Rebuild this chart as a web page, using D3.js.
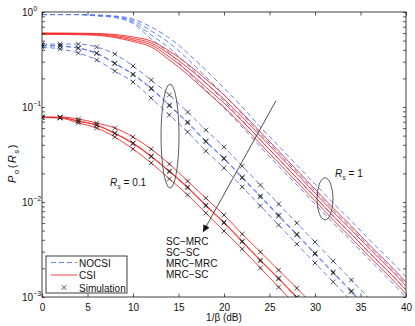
<!DOCTYPE html>
<html>
<head>
<meta charset="utf-8">
<title>outage</title>
<script src="https://d3js.org/d3.v7.min.js"></script>
<style>
	body { margin: 0; background: #fff; }
	text { font-family: "Liberation Sans", Arial, sans-serif; fill: #111; }
</style>
</head>
<body>
<div id="chart"></div>
<script>

	// 1/beta in dB, sample points of the analytic curves
	var snrRs1  = [0,2,4,6,8,10,12,14,16,18,20,22,24,26,28,30,32,34,36,38,40];
	var snrRs01 = [0,2,4,6,8,10,12,14,16,18,20,22,24,26,28,30,32,34,36,38];
	var snrCsi01 = [0,2,4,6,8,10,12,14,16,18,20,22,24,26,28,30];

	// simulation points
	var simSnrNocsi = [0,2,4,6,8,10,12,14,16,18,20,22,24,26,28,30,32,34];
	var simSnrCsi   = [0,2,4,6,8,10,12,14,16,18,20,22,24,26,28];

	// NOCSI, Rs = 1 (SC-MRC, SC-SC, MRC-MRC, MRC-SC)
	var nocsiRs1 = [
		[0.94,0.94,0.94,0.93,0.908,0.844,0.695,0.532,0.370,0.245,0.158,0.100,0.0615,0.0389,0.0245,0.0155,0.00976,0.00631,0.00398,0.00258,0.00163],
		[0.94,0.94,0.94,0.923,0.897,0.814,0.631,0.472,0.320,0.207,0.134,0.0843,0.052,0.0328,0.0207,0.0131,0.00824,0.00532,0.00336,0.00217,0.00137],
		[0.94,0.94,0.94,0.916,0.886,0.785,0.573,0.418,0.277,0.179,0.116,0.073,0.045,0.0284,0.0179,0.0113,0.00713,0.0046,0.0029,0.00188,0.00119],
		[0.94,0.94,0.94,0.908,0.875,0.757,0.52,0.370,0.234,0.151,0.0976,0.0615,0.038,0.0239,0.0151,0.00953,0.00601,0.00388,0.00245,0.00158,0.001]
	];

	// CSI, Rs = 1
	var csiRs1 = [
		[0.601,0.601,0.598,0.594,0.580,0.546,0.495,0.388,0.284,0.197,0.134,0.0865,0.0546,0.0344,0.0217,0.0137,0.00865,0.00559,0.00352,0.00228,0.00144],
		[0.594,0.594,0.592,0.587,0.566,0.526,0.472,0.361,0.261,0.179,0.121,0.0785,0.0495,0.0313,0.0197,0.0124,0.00785,0.00507,0.0032,0.00207,0.00131],
		[0.587,0.587,0.584,0.577,0.552,0.507,0.45,0.336,0.239,0.162,0.110,0.0713,0.045,0.0284,0.0179,0.0113,0.00713,0.0046,0.0029,0.00188,0.00119],
		[0.580,0.580,0.577,0.569,0.539,0.489,0.428,0.313,0.220,0.147,0.100,0.0647,0.0408,0.0258,0.0163,0.0103,0.00647,0.00418,0.00264,0.00171,0.00108]
	];

	// NOCSI, Rs = 0.1
	var nocsiRs01 = [
		[0.460,0.460,0.460,0.428,0.361,0.270,0.192,0.134,0.0885,0.0573,0.038,0.0239,0.0151,0.00953,0.00601,0.00379,0.00239,0.00151,0.000953,0.000601],
		[0.444,0.439,0.418,0.370,0.290,0.222,0.158,0.105,0.0695,0.0439,0.029,0.0183,0.0116,0.0073,0.0046,0.0029,0.00183,0.00116,0.00073,0.00046],
		[0.443,0.437,0.415,0.366,0.286,0.219,0.155,0.103,0.068,0.043,0.0284,0.0179,0.0113,0.0071,0.00449,0.00283,0.00178,0.00113,0.00071,0.00045],
		[0.428,0.408,0.370,0.313,0.239,0.183,0.124,0.0824,0.0546,0.0344,0.0228,0.0144,0.00908,0.00573,0.00361,0.00228,0.00144,0.000908,0.000573,0.00036]
	];

	// CSI, Rs = 0.1
	var csiRs01 = [
		[0.0785,0.0785,0.0748,0.0679,0.0601,0.0483,0.0361,0.0251,0.0166,0.0110,0.0073,0.0046,0.00298,0.00192,0.00124,0.000785],
		[0.0779,0.0775,0.0713,0.0647,0.0532,0.0418,0.0305,0.0212,0.0144,0.00929,0.00615,0.00388,0.00245,0.00158,0.001,0.00063],
		[0.0777,0.0772,0.0708,0.0641,0.0525,0.0411,0.0300,0.0208,0.0141,0.0091,0.0060,0.0038,0.0024,0.00155,0.00098,0.00062],
		[0.0775,0.0766,0.0679,0.0601,0.0483,0.0361,0.0258,0.0175,0.0119,0.00766,0.00495,0.0032,0.00202,0.00127,0.000804,0.0005]
	];

	var xTicks = [0,5,10,15,20,25,30,35,40];
	var yDecades = [1,0.1,0.01,0.001];
	var yExponents = ["0","\u22121","\u22122","\u22123"];
	var schemes = ["SC\u2212MRC","SC\u2212SC","MRC\u2212MRC","MRC\u2212SC"];
	var legendLabels = ["NOCSI","CSI","Simulation"];

	//display variables
	var width = 415, height = 326;
	var plotL = 42, plotR = 406, plotT = 12, plotB = 297;
	var blue = "#5375f5", red = "#f52a2a";

	var svg = d3.select('#chart').append('svg')
		.attr('width', width).attr('height', height);

	var x = d3.scaleLinear().domain([0,40]).range([plotL,plotR]);
	var y = d3.scaleLog().domain([0.001,1]).range([plotB,plotT]);

	svg.append('clipPath').attr('id','plotclip')
		.append('rect').attr('x',plotL).attr('y',plotT).attr('width',plotR-plotL).attr('height',plotB-plotT);

	var plot = svg.append('g').attr('clip-path','url(#plotclip)');

	var line = d3.line()
		.x(function(d){ return x(d[0]); })
		.y(function(d){ return y(d[1]); })
		.curve(d3.curveMonotoneX);

	function drawGroup(xs, series, color, dash){
		series.forEach(function(vals){
			plot.append('path')
				.attr('d', line(d3.zip(xs, vals)))
				.attr('fill','none')
				.attr('stroke', color)
				.attr('stroke-width', 0.9)
				.attr('stroke-dasharray', dash ? '5,3' : null);
		});
	}

	drawGroup(snrRs1, nocsiRs1, blue, true);
	drawGroup(snrRs1, csiRs1, red, false);
	drawGroup(snrRs01, nocsiRs01, blue, true);
	drawGroup(snrCsi01, csiRs01, red, false);

	// simulation crosses
	function cross(cx, cy){
		var s = 2.3;
		return 'M'+(cx-s)+','+(cy-s)+'L'+(cx+s)+','+(cy+s)+'M'+(cx-s)+','+(cy+s)+'L'+(cx+s)+','+(cy-s);
	}
	function drawSim(simXs, xs, series){
		series.forEach(function(vals){
			simXs.forEach(function(sx){
				var v = vals[xs.indexOf(sx)];
				plot.append('path')
					.attr('d', cross(x(sx), y(v)))
					.attr('stroke','#222')
					.attr('stroke-width',0.8)
					.attr('fill','none');
			});
		});
	}
	drawSim(simSnrNocsi, snrRs01, nocsiRs01);
	drawSim(simSnrCsi, snrCsi01, csiRs01);

	// axes, ticks pointing inward
	var yTickVals = y.ticks();
	svg.append('g').attr('transform','translate(0,'+plotB+')')
		.call(d3.axisBottom(x).tickValues(xTicks).tickSize(-3.5).tickPadding(7))
		.call(function(g){ g.select('.domain').remove(); });
	svg.append('g').attr('transform','translate(0,'+plotT+')')
		.call(d3.axisTop(x).tickValues(xTicks).tickSize(-3.5).tickFormat(''))
		.call(function(g){ g.select('.domain').remove(); });
	svg.append('g').attr('transform','translate('+plotL+',0)')
		.call(d3.axisLeft(y).tickValues(yTickVals).tickSize(-3).tickFormat(''))
		.call(function(g){ g.select('.domain').remove(); });
	svg.append('g').attr('transform','translate('+plotR+',0)')
		.call(d3.axisRight(y).tickValues(yTickVals).tickSize(-3).tickFormat(''))
		.call(function(g){ g.select('.domain').remove(); });
	svg.selectAll('.tick line').attr('stroke','#111').attr('stroke-width',0.7);
	svg.selectAll('.tick text').style('font-family','"Liberation Sans", Arial, sans-serif').style('font-size','10px').attr('fill','#111');

	svg.append('rect').attr('x',plotL).attr('y',plotT).attr('width',plotR-plotL).attr('height',plotB-plotT)
		.attr('fill','none').attr('stroke','#111').attr('stroke-width',0.8);

	// y tick labels 10^k
	yDecades.forEach(function(d,i){
		var t = svg.append('text').attr('x',22).attr('y',y(d)+4).attr('font-size',10);
		t.append('tspan').text('10');
		t.append('tspan').attr('dy',-5).attr('font-size',7).text(yExponents[i]);
	});

	// axis labels
	svg.append('text').attr('x',(plotL+plotR)/2).attr('y',321).attr('text-anchor','middle')
		.attr('font-size',10).text('1/\u03b2 (dB)');

	var yl = svg.append('text').attr('transform','translate(16,163) rotate(-90)')
		.attr('text-anchor','middle').attr('font-size',11).attr('letter-spacing',1.5);
	yl.append('tspan').attr('font-style','italic').text('P');
	yl.append('tspan').attr('dy',3).attr('font-size',8).text('o');
	yl.append('tspan').attr('dy',-3).text('(');
	yl.append('tspan').attr('font-style','italic').text('R');
	yl.append('tspan').attr('dy',3).attr('font-size',8).attr('font-style','italic').text('s');
	yl.append('tspan').attr('dy',-3).text(')');

	// ellipses around curve groups
	svg.append('ellipse').attr('cx',x(14.07)).attr('cy',y(0.0495)).attr('rx',9).attr('ry',52)
		.attr('fill','none').attr('stroke','#333').attr('stroke-width',0.8);
	svg.append('ellipse').attr('cx',x(31.1)).attr('cy',y(0.0108)).attr('rx',8).attr('ry',21)
		.attr('fill','none').attr('stroke','#333').attr('stroke-width',0.8);

	function rsLabel(px, py, val){
		var t = svg.append('text').attr('x',px).attr('y',py).attr('font-size',10);
		t.append('tspan').attr('font-style','italic').text('R');
		t.append('tspan').attr('dy',3).attr('font-size',7).attr('font-style','italic').text('s');
		t.append('tspan').attr('dy',-3).text(' = ' + val);
	}
	rsLabel(110, 186, '0.1');
	rsLabel(335, 177, '1');

	// arrow through the schemes
	svg.append('defs').append('marker').attr('id','arrowhead')
		.attr('viewBox','0 0 10 10').attr('refX',10).attr('refY',5)
		.attr('markerWidth',7).attr('markerHeight',7).attr('markerUnits','userSpaceOnUse')
		.attr('orient','auto')
		.append('path').attr('d','M0,0L10,5L0,10z').attr('fill','#111');
	svg.append('line')
		.attr('x1',x(25.7)).attr('y1',y(0.116))
		.attr('x2',x(17.7)).attr('y2',y(0.00483))
		.attr('stroke','#222').attr('stroke-width',0.8)
		.attr('marker-end','url(#arrowhead)');

	schemes.forEach(function(s,i){
		svg.append('text').attr('x',166).attr('y',245 + i*11).attr('font-size',10).text(s);
	});

	// legend
	var lg = svg.append('g');
	lg.append('rect').attr('x',46).attr('y',256).attr('width',81).attr('height',37)
		.attr('fill','#fff').attr('stroke','#111').attr('stroke-width',0.8);
	lg.append('line').attr('x1',51).attr('x2',77).attr('y1',262.5).attr('y2',262.5)
		.attr('stroke',blue).attr('stroke-width',0.9).attr('stroke-dasharray','5,3');
	lg.append('line').attr('x1',51).attr('x2',77).attr('y1',275).attr('y2',275)
		.attr('stroke',red).attr('stroke-width',0.9);
	lg.append('path').attr('d',cross(64,287.5)).attr('stroke','#222').attr('stroke-width',0.8);
	legendLabels.forEach(function(l,i){
		lg.append('text').attr('x',79).attr('y',266.5 + i*12.5).attr('font-size',10).text(l);
	});

</script>
</body>
</html>
